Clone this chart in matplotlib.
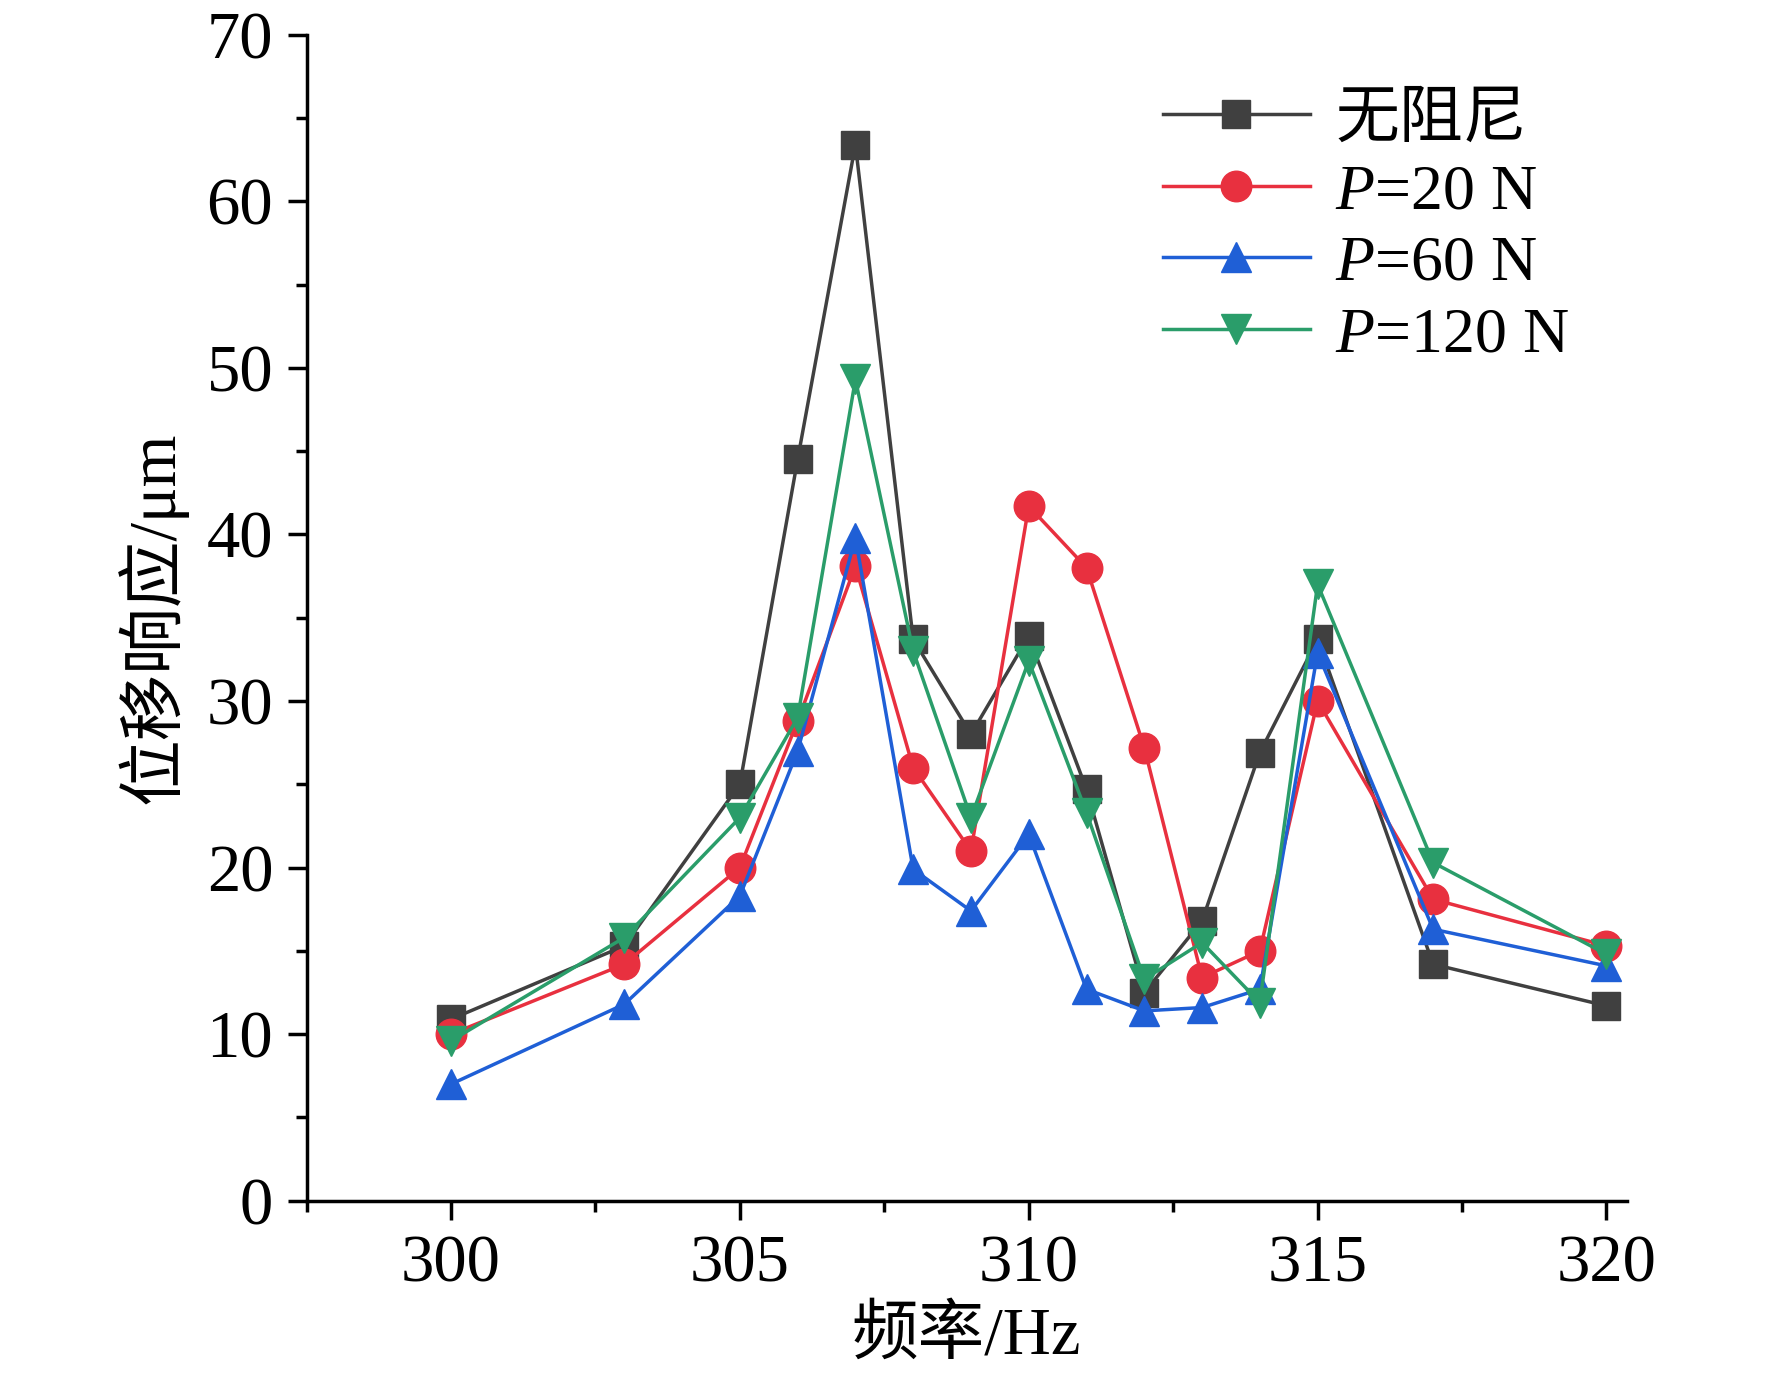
import matplotlib
matplotlib.use("Agg")
import matplotlib.pyplot as plt
from matplotlib.ticker import MultipleLocator

freq = [300, 303, 305, 306, 307, 308, 309, 310, 311, 312, 313, 314, 315, 317, 320]
s0 = [10.9, 15.3, 25.0, 44.5, 63.4, 33.7, 28.0, 33.9, 24.7, 12.5, 16.8, 26.9, 33.7, 14.2, 11.7]
s20 = [10.0, 14.2, 20.0, 28.8, 38.1, 26.0, 21.0, 41.7, 38.0, 27.2, 13.4, 15.0, 30.0, 18.1, 15.3]
s60 = [7.0, 11.8, 18.3, 27.0, 39.8, 19.9, 17.4, 22.0, 12.7, 11.4, 11.6, 12.7, 32.9, 16.3, 14.1]
s120 = [9.6, 15.8, 23.0, 29.0, 49.3, 33.0, 23.0, 32.4, 23.3, 13.3, 15.5, 11.9, 37.0, 20.3, 14.8]
labels = ["无阻尼", "$P$=20 N", "$P$=60 N", "$P$=120 N"]

plt.rcParams['font.family'] = ['Liberation Serif', 'Noto Sans CJK SC']
plt.rcParams['mathtext.fontset'] = 'custom'
plt.rcParams['mathtext.it'] = 'Liberation Serif:italic'
plt.rcParams['mathtext.rm'] = 'Liberation Serif'

fig = plt.figure(figsize=(17.72, 13.85), dpi=100)
ax = fig.add_axes([0.173, 0.133, 0.745, 0.842])
styles = [("#404040", "s", 20), ("#e8303f", "o", 22), ("#1f5fd6", "^", 22), ("#2a9d6a", "v", 22)]
for ys, lab, (c, m, ms) in zip([s0, s20, s60, s120], labels, styles):
    ax.plot(freq, ys, color=c, marker=m, markersize=ms, linewidth=2.5, label=lab)

ax.set_xlim(297.5, 320.35)
ax.set_ylim(0, 70)
ax.xaxis.set_major_locator(MultipleLocator(5))
ax.xaxis.set_minor_locator(MultipleLocator(2.5))
ax.yaxis.set_major_locator(MultipleLocator(10))
ax.yaxis.set_minor_locator(MultipleLocator(5))
for s in ["top", "right"]:
    ax.spines[s].set_visible(False)
for s in ["left", "bottom"]:
    ax.spines[s].set_linewidth(2.5)
ax.tick_params(which="major", direction="out", length=14, width=2.5, labelsize=48, pad=10)
ax.tick_params(which="minor", direction="out", length=8, width=2.5)
ax.set_xlabel("频率/Hz", fontsize=48, labelpad=8)
ax.set_ylabel("位移响应/μm", fontsize=48, labelpad=14)
ax.legend(loc="upper right", fontsize=46, frameon=False, handlelength=2.3,
          bbox_to_anchor=(1.0, 1.0), labelspacing=0.2, handletextpad=0.4)
fig.savefig("out.png", dpi=100)
